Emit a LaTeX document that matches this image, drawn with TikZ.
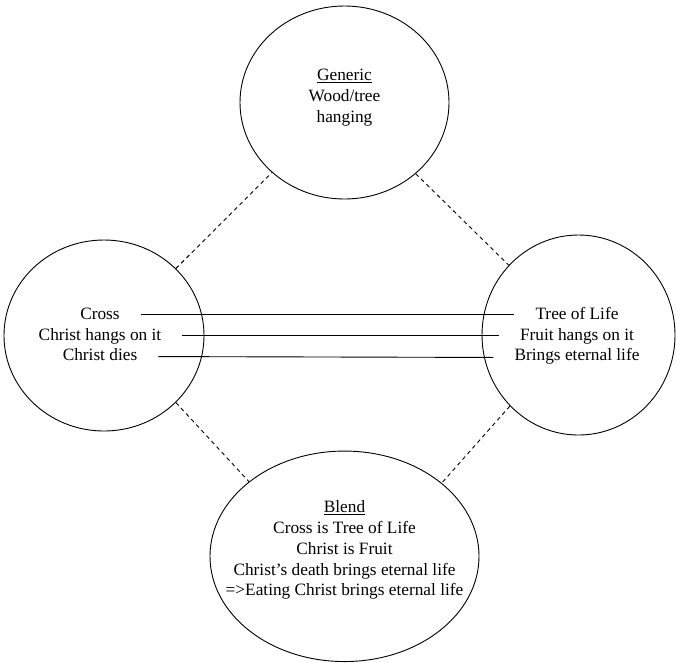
\documentclass[tikz,border=0pt]{standalone}
\usepackage{fontspec}
\setmainfont{Liberation Serif}
\usetikzlibrary{shapes.geometric}
\begin{document}
\begin{tikzpicture}[x=1pt,y=-1pt,
  space/.style={draw, ellipse, inner sep=0pt, line width=0.9pt},
  txt/.style={font=\fontsize{17.3}{20.7}\selectfont, inner sep=0pt},
  mapping/.style={dashed, dash pattern=on 4pt off 3.5pt, line width=0.9pt},
  corr/.style={line width=0.9pt, shorten <=21pt, shorten >=21pt}]
\fill[white] (0,0) rectangle (676,662);
\useasboundingbox (0,0) rectangle (676,662);

% mental spaces
\node[space, minimum width=209pt, minimum height=193pt] (generic) at (344.5,102.5) {};
\node[space, minimum width=200pt, minimum height=191pt] (input1) at (104,335.5) {};
\node[space, minimum width=193pt, minimum height=200pt] (input2) at (578.5,335) {};
\node[space, minimum width=269pt, minimum height=210.5pt] (blend) at (344.5,556.3) {};

% generic space
\node[txt, align=center] (gtext) at (344.5,97.5) {\underline{Generic}\\Wood/tree\\hanging};

% input space 1
\node[txt, anchor=base] (c1) at (100,319) {Cross};
\node[txt, anchor=base] (c2) at (100,340) {Christ hangs on it};
\node[txt, anchor=base] (c3) at (100,360) {Christ dies};

% input space 2
\node[txt, anchor=base] (t1) at (577,319) {Tree of Life};
\node[txt, anchor=base] (t2) at (577,340) {Fruit hangs on it};
\node[txt, anchor=base] (t3) at (577,360) {Brings eternal life};

% blended space
\node[txt, align=center] (btext) at (344.5,550.2) {\underline{Blend}\\Cross is Tree of Life\\Christ is Fruit\\Christ’s death brings eternal life\\=>Eating Christ brings eternal life};

% links between spaces
\draw[mapping] (input1.43.6) -- (generic.-136.5);
\draw[mapping] (generic.-45) -- (input2.135);
\draw[mapping] (input1.-43.2) -- (blend.142.8);
\draw[mapping] (input2.-134.4) -- (blend.37.6);

% cross-space counterparts
\draw[corr] ([yshift=4.7pt]c1.base east) -- ([yshift=4.7pt]t1.base west);
\draw[corr] ([yshift=4.7pt]c2.base east) -- ([yshift=4.7pt]t2.base west);
\draw[corr] ([yshift=3.5pt]c3.base east) -- ([yshift=2.5pt]t3.base west);
\end{tikzpicture}
\end{document}
